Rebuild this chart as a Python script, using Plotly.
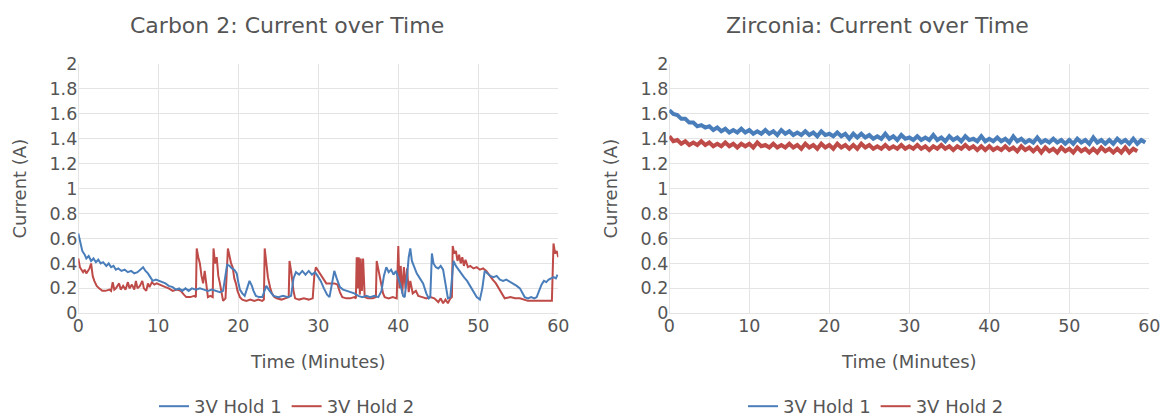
import plotly.graph_objects as go

# ---------------- data ----------------
TITLES = ["Carbon 2: Current over Time", "Zirconia: Current over Time"]
SERIES_NAMES = ["3V Hold 1", "3V Hold 2"]
X_TITLE = "Time (Minutes)"
Y_TITLE = "Current (A)"

# Carbon 2, (time in minutes, current in A)
carbon_hold1 = [
    (0, 0.64), (0.2, 0.58), (0.5, 0.50), (0.8, 0.47), (1.0, 0.44), (1.3, 0.46), (1.6, 0.42),
    (1.9, 0.44), (2.2, 0.41), (2.5, 0.43), (2.8, 0.40), (3.1, 0.41), (3.5, 0.38), (3.8, 0.40),
    (4.1, 0.37), (4.4, 0.38), (4.7, 0.35), (5.0, 0.36), (5.4, 0.34), (5.8, 0.35), (6.2, 0.33),
    (6.6, 0.34), (7.0, 0.32), (7.4, 0.33), (7.8, 0.35), (8.1, 0.37), (8.4, 0.34), (8.7, 0.32),
    (9.0, 0.29), (9.3, 0.26), (9.7, 0.27), (10.1, 0.26), (10.5, 0.25), (10.9, 0.24), (11.3, 0.22),
    (11.8, 0.21), (12.2, 0.19), (12.6, 0.20), (13.0, 0.18), (13.4, 0.20), (13.8, 0.18), (14.2, 0.20),
    (14.7, 0.19), (15.2, 0.20), (15.7, 0.19), (16.2, 0.18), (16.7, 0.19), (17.2, 0.18), (17.7, 0.17),
    (18.1, 0.18), (18.4, 0.33), (18.6, 0.39), (18.9, 0.38), (19.2, 0.36), (19.5, 0.35), (19.8, 0.32),
    (20.0, 0.25), (20.2, 0.19), (20.5, 0.16), (20.8, 0.14), (21.1, 0.20), (21.4, 0.26), (21.7, 0.22),
    (21.9, 0.18), (22.2, 0.14), (22.6, 0.13), (23.0, 0.13), (23.3, 0.18), (23.5, 0.22), (23.8, 0.19),
    (24.1, 0.16), (24.4, 0.14), (25.0, 0.13), (25.6, 0.14), (26.2, 0.13), (26.6, 0.14), (26.9, 0.28),
    (27.2, 0.33), (27.6, 0.31), (28.0, 0.34), (28.4, 0.31), (28.8, 0.34), (29.2, 0.31), (29.6, 0.33),
    (29.9, 0.30), (30.3, 0.26), (30.7, 0.20), (31.1, 0.15), (31.4, 0.13), (31.7, 0.24), (32.0, 0.34),
    (32.3, 0.28), (32.7, 0.21), (33.1, 0.19), (33.5, 0.18), (34.0, 0.17), (34.5, 0.16), (35.0, 0.14),
    (35.5, 0.13), (36.0, 0.14), (36.5, 0.13), (37.0, 0.14), (37.5, 0.13), (37.9, 0.18), (38.2, 0.30),
    (38.5, 0.37), (38.8, 0.33), (39.1, 0.35), (39.4, 0.31), (39.7, 0.34), (40.0, 0.28), (40.3, 0.22),
    (40.6, 0.14), (40.8, 0.13), (41.1, 0.30), (41.3, 0.45), (41.5, 0.52), (41.7, 0.42), (42.0, 0.37),
    (42.3, 0.32), (42.7, 0.28), (43.1, 0.24), (43.5, 0.16), (43.8, 0.12), (44.0, 0.13), (44.2, 0.48),
    (44.4, 0.40), (44.7, 0.37), (45.0, 0.36), (45.3, 0.38), (45.6, 0.35), (45.9, 0.22), (46.2, 0.12),
    (46.5, 0.13), (46.7, 0.30), (46.9, 0.42), (47.2, 0.38), (47.5, 0.35), (47.8, 0.32), (48.2, 0.29),
    (48.6, 0.26), (49.0, 0.22), (49.4, 0.17), (49.8, 0.13), (50.2, 0.11), (50.5, 0.20), (50.8, 0.34),
    (51.1, 0.32), (51.5, 0.30), (51.9, 0.29), (52.3, 0.30), (52.7, 0.27), (53.1, 0.26), (53.5, 0.27),
    (54.0, 0.25), (54.4, 0.24), (54.8, 0.22), (55.2, 0.20), (55.5, 0.16), (55.8, 0.13), (56.2, 0.12),
    (56.6, 0.13), (57.0, 0.12), (57.3, 0.13), (57.6, 0.18), (57.9, 0.23), (58.2, 0.26), (58.5, 0.25),
    (58.8, 0.27), (59.1, 0.28), (59.4, 0.29), (59.7, 0.28), (59.9, 0.31),
]

carbon_hold2 = [
    (0, 0.44), (0.2, 0.37), (0.4, 0.35), (0.6, 0.33), (0.8, 0.35), (1.0, 0.32), (1.2, 0.34),
    (1.4, 0.36), (1.6, 0.40), (1.8, 0.30), (2.0, 0.26), (2.3, 0.22), (2.6, 0.20), (3.0, 0.18),
    (3.4, 0.18), (3.9, 0.19), (4.1, 0.18), (4.3, 0.25), (4.5, 0.19), (4.7, 0.20), (5.1, 0.24),
    (5.3, 0.19), (5.6, 0.22), (5.9, 0.19), (6.2, 0.25), (6.4, 0.20), (6.7, 0.23), (7.0, 0.19),
    (7.2, 0.26), (7.4, 0.20), (7.7, 0.22), (8.0, 0.26), (8.2, 0.20), (8.5, 0.18), (8.7, 0.24),
    (8.9, 0.21), (9.2, 0.25), (9.5, 0.23), (9.8, 0.24), (10.1, 0.23), (10.5, 0.22), (10.9, 0.21),
    (11.3, 0.20), (11.8, 0.18), (12.3, 0.19), (12.8, 0.18), (13.2, 0.15), (13.5, 0.13), (14.0, 0.13),
    (14.5, 0.14), (14.7, 0.13), (14.8, 0.52), (15.0, 0.45), (15.2, 0.40), (15.4, 0.30), (15.6, 0.24),
    (15.8, 0.34), (16.0, 0.22), (16.2, 0.13), (16.5, 0.14), (16.8, 0.13), (16.9, 0.52), (17.1, 0.40),
    (17.3, 0.45), (17.5, 0.30), (17.7, 0.24), (17.9, 0.15), (18.1, 0.10), (18.4, 0.12), (18.7, 0.52),
    (18.9, 0.46), (19.1, 0.40), (19.3, 0.37), (19.5, 0.28), (19.7, 0.24), (19.9, 0.18), (20.2, 0.13),
    (20.5, 0.11), (21.0, 0.10), (21.5, 0.11), (22.0, 0.10), (22.5, 0.11), (23.0, 0.10), (23.2, 0.11),
    (23.3, 0.52), (23.5, 0.38), (23.7, 0.29), (24.0, 0.20), (24.2, 0.16), (24.5, 0.13), (24.8, 0.12),
    (25.4, 0.11), (26.0, 0.12), (26.3, 0.13), (26.4, 0.42), (26.6, 0.34), (26.9, 0.18), (27.1, 0.12),
    (27.6, 0.11), (28.2, 0.12), (28.8, 0.11), (29.3, 0.12), (29.5, 0.30), (29.7, 0.37), (30.0, 0.34),
    (30.4, 0.30), (30.7, 0.26), (31.0, 0.24), (31.5, 0.24), (32.0, 0.24), (32.4, 0.23), (32.7, 0.17),
    (33.0, 0.13), (33.5, 0.12), (34.0, 0.12), (34.5, 0.13), (34.7, 0.12), (34.8, 0.45), (34.95, 0.20),
    (35.05, 0.45), (35.2, 0.15), (35.3, 0.44), (35.45, 0.18), (35.6, 0.44), (35.8, 0.13), (36.2, 0.12),
    (36.8, 0.12), (37.2, 0.13), (37.3, 0.42), (37.5, 0.35), (37.7, 0.28), (37.9, 0.24), (38.1, 0.16),
    (38.3, 0.13), (38.8, 0.12), (39.3, 0.13), (39.8, 0.12), (40.0, 0.54), (40.15, 0.20), (40.3, 0.38),
    (40.5, 0.16), (40.7, 0.37), (40.9, 0.20), (41.1, 0.36), (41.3, 0.17), (41.5, 0.26), (41.8, 0.16),
    (42.2, 0.18), (42.5, 0.14), (43.0, 0.13), (43.5, 0.12), (44.0, 0.13), (44.5, 0.12), (45.0, 0.09),
    (45.3, 0.12), (45.6, 0.08), (45.9, 0.11), (46.2, 0.08), (46.5, 0.12), (46.7, 0.13), (46.8, 0.54),
    (47.0, 0.48), (47.2, 0.50), (47.4, 0.42), (47.6, 0.47), (47.8, 0.40), (48.0, 0.45), (48.2, 0.38),
    (48.4, 0.43), (48.7, 0.37), (49.0, 0.38), (49.4, 0.36), (49.8, 0.37), (50.2, 0.35), (50.6, 0.36),
    (51.0, 0.34), (51.4, 0.30), (51.8, 0.27), (52.2, 0.24), (52.6, 0.20), (53.0, 0.16), (53.3, 0.12),
    (54.0, 0.13), (54.6, 0.12), (55.2, 0.12), (55.8, 0.11), (56.2, 0.10), (57.0, 0.10), (57.8, 0.10),
    (58.5, 0.10), (59.2, 0.10), (59.4, 0.56), (59.6, 0.48), (59.8, 0.50), (60.0, 0.45),
]

# Zirconia, sampled every 0.5 minutes
zirconia_time_h1 = [
    0, 0.5, 1, 1.5, 2, 2.5, 3, 3.5, 4, 4.5, 5, 5.5, 6, 6.5, 7, 7.5, 8, 8.5, 9, 9.5,
    10, 10.5, 11, 11.5, 12, 12.5, 13, 13.5, 14, 14.5, 15, 15.5, 16, 16.5, 17, 17.5, 18, 18.5, 19, 19.5,
    20, 20.5, 21, 21.5, 22, 22.5, 23, 23.5, 24, 24.5, 25, 25.5, 26, 26.5, 27, 27.5, 28, 28.5, 29, 29.5,
    30, 30.5, 31, 31.5, 32, 32.5, 33, 33.5, 34, 34.5, 35, 35.5, 36, 36.5, 37, 37.5, 38, 38.5, 39, 39.5,
    40, 40.5, 41, 41.5, 42, 42.5, 43, 43.5, 44, 44.5, 45, 45.5, 46, 46.5, 47, 47.5, 48, 48.5, 49, 49.5,
    50, 50.5, 51, 51.5, 52, 52.5, 53, 53.5, 54, 54.5, 55, 55.5, 56, 56.5, 57, 57.5, 58, 58.5, 59, 59.5,
]
zirconia_hold1 = [
    1.63, 1.60, 1.59, 1.56, 1.56, 1.53, 1.53, 1.50, 1.51, 1.49,
    1.50, 1.47, 1.49, 1.46, 1.48, 1.45, 1.47, 1.45, 1.48, 1.45,
    1.47, 1.44, 1.46, 1.44, 1.47, 1.44, 1.46, 1.43, 1.47, 1.44,
    1.46, 1.43, 1.45, 1.43, 1.46, 1.43, 1.45, 1.42, 1.46, 1.43,
    1.44, 1.42, 1.45, 1.42, 1.44, 1.40, 1.44, 1.41, 1.44, 1.41,
    1.43, 1.40, 1.42, 1.40, 1.44, 1.40, 1.42, 1.39, 1.43, 1.40,
    1.41, 1.39, 1.42, 1.39, 1.41, 1.39, 1.43, 1.39, 1.41, 1.38,
    1.42, 1.39, 1.41, 1.38, 1.42, 1.39, 1.40, 1.38, 1.42, 1.38,
    1.40, 1.38, 1.41, 1.38, 1.40, 1.37, 1.42, 1.38, 1.40, 1.37,
    1.39, 1.37, 1.41, 1.37, 1.39, 1.37, 1.40, 1.37, 1.39, 1.36,
    1.39, 1.36, 1.40, 1.37, 1.39, 1.36, 1.41, 1.37, 1.39, 1.36,
    1.39, 1.36, 1.40, 1.37, 1.39, 1.36, 1.40, 1.36, 1.39, 1.37,
]
zirconia_time_h2 = [
    0, 0.5, 1, 1.5, 2, 2.5, 3, 3.5, 4, 4.5, 5, 5.5, 6, 6.5, 7, 7.5, 8, 8.5, 9, 9.5,
    10, 10.5, 11, 11.5, 12, 12.5, 13, 13.5, 14, 14.5, 15, 15.5, 16, 16.5, 17, 17.5, 18, 18.5, 19, 19.5,
    20, 20.5, 21, 21.5, 22, 22.5, 23, 23.5, 24, 24.5, 25, 25.5, 26, 26.5, 27, 27.5, 28, 28.5, 29, 29.5,
    30, 30.5, 31, 31.5, 32, 32.5, 33, 33.5, 34, 34.5, 35, 35.5, 36, 36.5, 37, 37.5, 38, 38.5, 39, 39.5,
    40, 40.5, 41, 41.5, 42, 42.5, 43, 43.5, 44, 44.5, 45, 45.5, 46, 46.5, 47, 47.5, 48, 48.5, 49, 49.5,
    50, 50.5, 51, 51.5, 52, 52.5, 53, 53.5, 54, 54.5, 55, 55.5, 56, 56.5, 57, 57.5, 58, 58.5,
]
zirconia_hold2 = [
    1.42, 1.38, 1.39, 1.36, 1.38, 1.35, 1.37, 1.35, 1.38, 1.35,
    1.37, 1.34, 1.36, 1.34, 1.37, 1.34, 1.36, 1.33, 1.36, 1.34,
    1.36, 1.33, 1.37, 1.34, 1.35, 1.33, 1.36, 1.33, 1.35, 1.33,
    1.36, 1.33, 1.35, 1.32, 1.36, 1.33, 1.35, 1.32, 1.36, 1.33,
    1.35, 1.32, 1.36, 1.33, 1.35, 1.32, 1.35, 1.32, 1.36, 1.33,
    1.35, 1.32, 1.34, 1.32, 1.35, 1.32, 1.34, 1.32, 1.35, 1.32,
    1.34, 1.32, 1.35, 1.32, 1.34, 1.31, 1.34, 1.32, 1.35, 1.32,
    1.34, 1.31, 1.34, 1.32, 1.35, 1.32, 1.34, 1.31, 1.34, 1.31,
    1.34, 1.31, 1.33, 1.31, 1.34, 1.31, 1.33, 1.30, 1.34, 1.31,
    1.33, 1.30, 1.33, 1.29, 1.33, 1.30, 1.32, 1.29, 1.33, 1.30,
    1.32, 1.29, 1.33, 1.30, 1.32, 1.29, 1.32, 1.29, 1.33, 1.30,
    1.32, 1.29, 1.32, 1.29, 1.33, 1.29, 1.32, 1.30,
]

X_TICKS = [0, 10, 20, 30, 40, 50, 60]
Y_TICKS = [0, 0.2, 0.4, 0.6, 0.8, 1, 1.2, 1.4, 1.6, 1.8, 2]

# ---------------- style ----------------
BLUE = "#4A7EBB"
RED = "#BE4B48"
FONT = "DejaVu Sans"
TXT = "#555555"
GRID = "#E4E4E4"

W, H = 1164, 416
def px_x(p): return p / W          # page pixel -> paper fraction
def px_y(p): return 1 - p / H

fig = go.Figure()

c1t, c1v = zip(*carbon_hold1)
c2t, c2v = zip(*carbon_hold2)

# left chart: red drawn first so blue sits on top
fig.add_trace(go.Scatter(x=c2t, y=c2v, mode="lines", name=SERIES_NAMES[1],
                         line=dict(color=RED, width=2), xaxis="x", yaxis="y",
                         legend="legend", legendrank=2))
fig.add_trace(go.Scatter(x=c1t, y=c1v, mode="lines", name=SERIES_NAMES[0],
                         line=dict(color=BLUE, width=2), xaxis="x", yaxis="y",
                         legend="legend", legendrank=1))
# right chart: dense noisy bands (legend entries shown with thin lines below)
fig.add_trace(go.Scatter(x=zirconia_time_h1, y=zirconia_hold1, mode="lines", name=SERIES_NAMES[0],
                         line=dict(color=BLUE, width=4), xaxis="x2", yaxis="y2",
                         showlegend=False, legendgroup="z1"))
fig.add_trace(go.Scatter(x=zirconia_time_h2, y=zirconia_hold2, mode="lines", name=SERIES_NAMES[1],
                         line=dict(color=RED, width=4), xaxis="x2", yaxis="y2",
                         showlegend=False, legendgroup="z2"))
fig.add_trace(go.Scatter(x=[None], y=[None], mode="lines", name=SERIES_NAMES[0],
                         line=dict(color=BLUE, width=2), xaxis="x2", yaxis="y2",
                         legend="legend2", legendrank=1, legendgroup="z1"))
fig.add_trace(go.Scatter(x=[None], y=[None], mode="lines", name=SERIES_NAMES[1],
                         line=dict(color=RED, width=2), xaxis="x2", yaxis="y2",
                         legend="legend2", legendrank=2, legendgroup="z2"))

ydom = [px_y(313.3), px_y(64)]
axis_common = dict(showgrid=True, gridcolor=GRID, gridwidth=1, zeroline=True, zerolinecolor=GRID,
                   zerolinewidth=1, showline=False, ticks="", automargin=False,
                   tickfont=dict(family=FONT, size=17.5, color=TXT))
xax = dict(axis_common, range=[0, 60], tickvals=X_TICKS,
           title=dict(text=X_TITLE, font=dict(family=FONT, size=18, color=TXT), standoff=20))
yax = dict(axis_common, range=[0, 2], tickvals=Y_TICKS,
           title=dict(text=Y_TITLE, font=dict(family=FONT, size=18, color=TXT), standoff=18))

legend_common = dict(orientation="h", xanchor="center", yanchor="bottom", y=-9 / H,
                     font=dict(family=FONT, size=18, color=TXT), bgcolor="rgba(0,0,0,0)",
                     traceorder="normal")

fig.update_layout(
    width=W, height=H,
    margin=dict(l=0, r=0, t=0, b=0, autoexpand=False),
    paper_bgcolor="white", plot_bgcolor="white",
    font=dict(family=FONT, color=TXT),
    xaxis=dict(xax, domain=[px_x(78.3), px_x(558.3)], anchor="y"),
    yaxis=dict(yax, domain=ydom, anchor="x"),
    xaxis2=dict(xax, domain=[px_x(669.3), px_x(1149.3)], anchor="y2"),
    yaxis2=dict(yax, domain=ydom, anchor="x2"),
    legend=dict(legend_common, x=px_x(287)),
    legend2=dict(legend_common, x=px_x(876)),
    annotations=[
        dict(text=TITLES[0], x=px_x(287), y=px_y(25), xref="paper", yref="paper",
             showarrow=False, xanchor="center", yanchor="middle",
             font=dict(family=FONT, size=22, color=TXT)),
        dict(text=TITLES[1], x=px_x(877), y=px_y(25), xref="paper", yref="paper",
             showarrow=False, xanchor="center", yanchor="middle",
             font=dict(family=FONT, size=22, color=TXT)),
    ],
    showlegend=True,
)

fig.write_html(
    "out.html",
    config={"displayModeBar": False},
    post_script="document.body.style.margin='0';document.body.style.overflow='hidden';",
)
